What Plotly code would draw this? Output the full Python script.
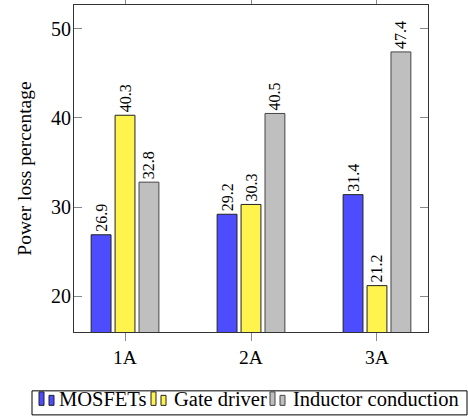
import plotly.graph_objects as go

categories = ["1A", "2A", "3A"]
mosfets = [26.9, 29.2, 31.4]
gate_driver = [40.3, 30.3, 21.2]
inductor = [32.8, 40.5, 47.4]

series_names = ["MOSFETs", "Gate driver", "Inductor conduction"]
series_values = [mosfets, gate_driver, inductor]
fills = ["rgb(77,77,255)", "rgb(255,243,77)", "rgb(191,191,191)"]
edges = ["#222222", "#222222", "#444444"]

font_family = "Liberation Serif"
W, H = 468, 417
ML, MR, MT, MB = 74, 40, 5, 85.3
PW, PH = W - ML - MR, H - MT - MB


def px_x(px):
    return (px - ML) / PW


def px_y(py):
    return (H - MB - py) / PH


fig = go.Figure()
for name, vals, fill, edge in zip(series_names, series_values, fills, edges):
    fig.add_trace(go.Bar(
        x=categories, y=vals, name=name,
        marker=dict(color=fill, line=dict(color=edge, width=1)),
        text=[f"{v:.1f}" for v in vals],
        textposition="outside", textangle=-90,
        textfont=dict(family=font_family, size=16, color="black"),
        constraintext="none", cliponaxis=False,
    ))

# Manual legend (pgfplots style: two small bars + label, in a framed box)
shapes = [dict(type="rect", xref="paper", yref="paper",
               x0=px_x(32), x1=px_x(467), y0=px_y(414.5), y1=px_y(390.5),
               line=dict(color="black", width=1), fillcolor="white", layer="above")]
annotations = []
sym_starts = [39, 151, 270]
text_starts = [57, 172, 291]
for name, fill, edge, s, t in zip(series_names, fills, edges, sym_starts, text_starts):
    shapes.append(dict(type="rect", xref="paper", yref="paper",
                       x0=px_x(s), x1=px_x(s + 5), y0=px_y(405), y1=px_y(391.5),
                       line=dict(color=edge, width=1), fillcolor=fill, layer="above"))
    shapes.append(dict(type="rect", xref="paper", yref="paper",
                       x0=px_x(s + 10), x1=px_x(s + 15), y0=px_y(405), y1=px_y(395),
                       line=dict(color=edge, width=1), fillcolor=fill, layer="above"))
    annotations.append(dict(xref="paper", yref="paper", x=px_x(t), y=px_y(398.5),
                            xanchor="left", yanchor="middle", showarrow=False,
                            text=name, font=dict(family=font_family, size=20.5, color="black")))

fig.update_layout(
    width=W, height=H,
    margin=dict(l=ML, r=MR, t=MT, b=MB, autoexpand=False),
    paper_bgcolor="white", plot_bgcolor="white",
    barmode="group", bargap=0.43, bargroupgap=0.17,
    font=dict(family=font_family, size=19, color="black"),
    showlegend=False,
    shapes=shapes, annotations=annotations,
)
fig.update_xaxes(
    range=[-0.405, 2.405], showline=True, linecolor="#333333", linewidth=1,
    mirror="ticks", ticks="outside", ticklen=8, tickcolor="#888888",
    tickfont=dict(family=font_family, size=19.5), showgrid=False,
)
fig.update_yaxes(
    range=[16.0, 52.66], showline=True, linecolor="#333333", linewidth=1,
    mirror="ticks", ticks="inside", ticklen=8, tickcolor="#888888",
    tickvals=[20, 30, 40, 50], showgrid=False, zeroline=False,
    tickfont=dict(family=font_family, size=20), ticklabelstandoff=-2,
    title=dict(text="Power loss percentage", font=dict(family=font_family, size=19.5), standoff=14),
)

fig.write_html("out.html")
